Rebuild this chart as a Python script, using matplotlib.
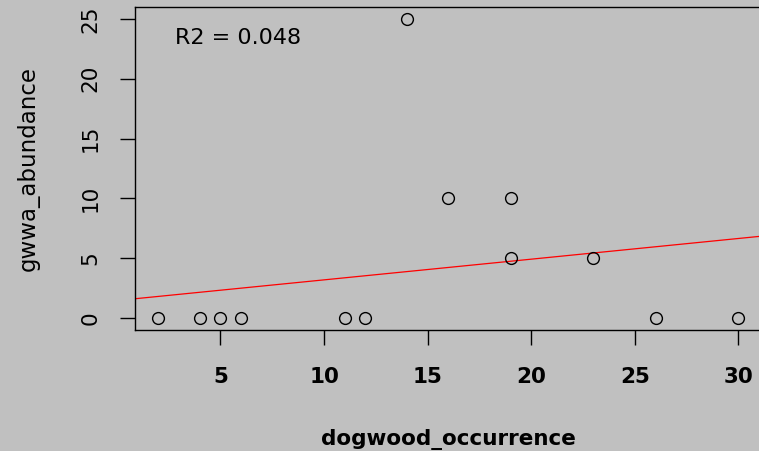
import matplotlib
matplotlib.use("Agg")
import matplotlib.pyplot as plt

# dados
dogwood_occurrence = [2, 4, 5, 6, 11, 12, 14, 16, 19, 19, 23, 26, 30]
gwwa_abundance = [0, 0, 0, 0, 0, 0, 25, 10, 10, 5, 5, 0, 0]
fit_intercept = 1.46
fit_slope = 0.173
r2_label = "R2 = 0.048"
xticks = [5, 10, 15, 20, 25, 30]
yticks = [0, 5, 10, 15, 20, 25]

bg = "#c0c0c0"
plt.rcParams["font.family"] = ["DejaVu Sans"]

fig = plt.figure(figsize=(7.59, 4.51), dpi=100, facecolor=bg)
ax = fig.add_axes([0.1779, 0.2683, 0.8256, 0.7162])
ax.set_facecolor(bg)

ax.plot(dogwood_occurrence, gwwa_abundance, linestyle="none", marker="o",
        markersize=8.5, markerfacecolor="none", markeredgecolor="black",
        markeredgewidth=1.0, zorder=3)

xmin, xmax = 0.88, 31.12
ax.plot([xmin, xmax], [fit_intercept + fit_slope * xmin, fit_intercept + fit_slope * xmax],
        color="red", linewidth=0.9, zorder=2)

ax.text(2.8, 23.4, r2_label, fontsize=16, ha="left", va="center")

ax.set_xlim(xmin, xmax)
ax.set_ylim(-1, 26)
ax.set_xticks(xticks)
ax.set_yticks(yticks)
ax.tick_params(axis="both", length=11, width=1, color="black")
ax.tick_params(axis="x", pad=16, labelsize=15.5)
ax.tick_params(axis="y", pad=14, labelsize=15.5, labelrotation=90)
for lab in ax.get_xticklabels():
    lab.set_fontweight("bold")
for lab in ax.get_yticklabels():
    lab.set_va("center")

for s in ax.spines.values():
    s.set_linewidth(1.0)
    s.set_color("black")

ax.set_xlabel("dogwood_occurrence", fontsize=15.5, fontweight="bold", labelpad=30)
ax.set_ylabel("gwwa_abundance", fontsize=16.5, labelpad=29)

fig.savefig("out.png", dpi=100, facecolor=bg)
